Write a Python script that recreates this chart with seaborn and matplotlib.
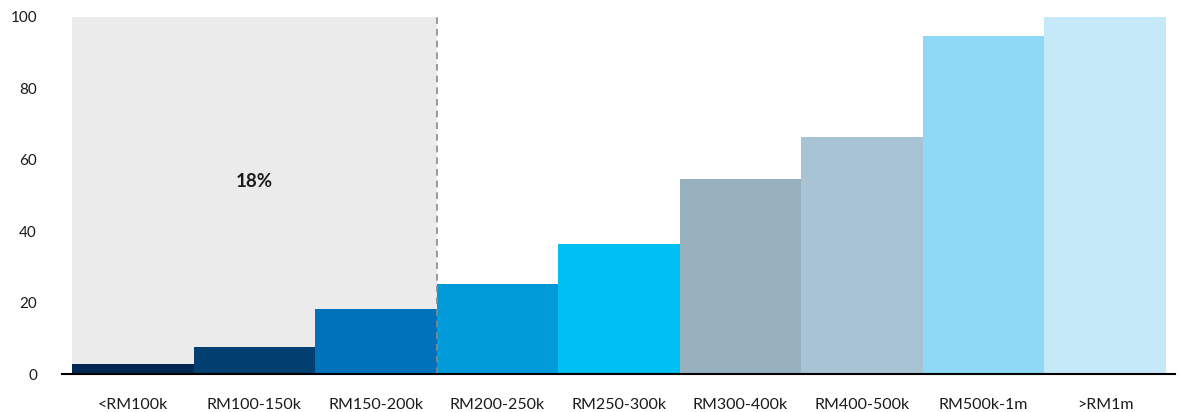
import matplotlib
matplotlib.use("Agg")
import matplotlib.pyplot as plt
import seaborn as sns
import pandas as pd

categories = ["<RM100k", "RM100-150k", "RM150-200k", "RM200-250k", "RM250-300k",
              "RM300-400k", "RM400-500k", "RM500k-1m", ">RM1m"]
values = [2.8, 7.6, 18.2, 25.2, 36.4, 54.6, 66.2, 94.7, 100.0]
colors = ["#002850", "#003f6f", "#0071bb", "#009ad9", "#00bff2",
          "#96b0bd", "#a7c3d4", "#8fd9f7", "#c6e9f9"]
yticks = [0, 20, 40, 60, 80, 100]
annotation = "18%"

sns.set_theme(style="white")
plt.rcParams['font.family'] = ['Lato', 'DejaVu Sans']

df = pd.DataFrame({"cat": categories, "val": values})

fig = plt.figure(figsize=(11.8, 4.12), dpi=100)
ax = fig.add_axes([62/1180, 1-374/412, (1175-62)/1180, (374-16.7)/412])

# shaded region behind first three bars
ax.axvspan(-0.5, 2.5, ymin=0, ymax=1, color="#ebebeb", zorder=0, lw=0)

sns.barplot(data=df, x="cat", y="val", hue="cat", palette=colors, width=1.0,
            legend=False, ax=ax, saturation=1, zorder=2, linewidth=0)

ax.axvline(2.5, color="#8a8a8a", ls=(0, (4, 3)), lw=1.2, zorder=3)
ax.text(1.0, 53.8, annotation, ha="center", va="center", fontsize=13.5,
        fontweight="bold", color="#1a1a1a", zorder=4)

ax.set_xlim(-0.582, 8.574)
ax.set_ylim(0, 100)
ax.set_yticks(yticks)
ax.set_yticklabels([str(v) for v in yticks])
ax.set_xlabel("")
ax.set_ylabel("")
for s in ["top", "right", "left"]:
    ax.spines[s].set_visible(False)
ax.spines["bottom"].set_color("#000000")
ax.spines["bottom"].set_linewidth(1.5)
ax.spines["bottom"].set_zorder(5)
ax.tick_params(axis="y", length=0, pad=18, labelsize=11, labelcolor="#1a1a1a")
ax.tick_params(axis="x", length=0, pad=17, labelsize=11.5, labelcolor="#1a1a1a")
ax.grid(False)

fig.savefig("out.png", dpi=100)
